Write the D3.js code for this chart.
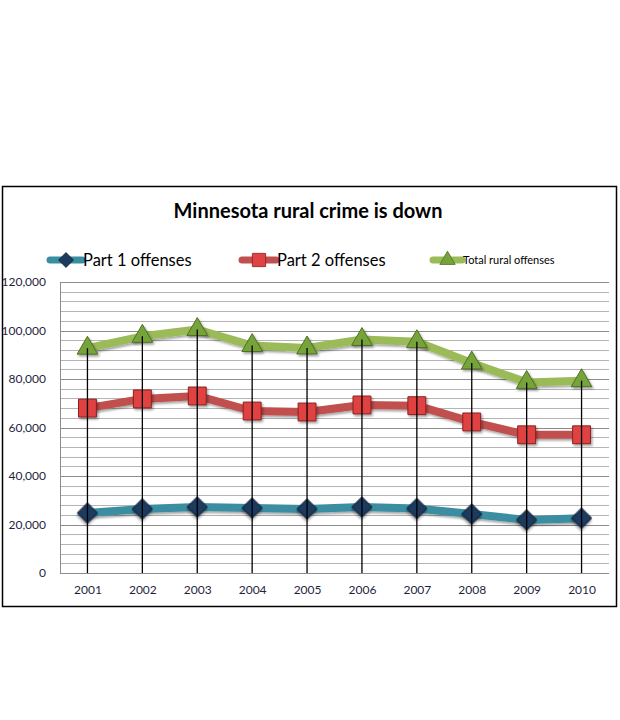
<!DOCTYPE html>
<html>
<head>
<meta charset="utf-8">
<script src="https://cdn.jsdelivr.net/npm/d3@7"></script>
<style>
  body { margin: 0; background: #fff; }
  svg { display: block; }
</style>
</head>
<body>
<svg id="chart" width="620" height="720"></svg>
<script>
// chart values
const years = ["2001", "2002", "2003", "2004", "2005", "2006", "2007", "2008", "2009", "2010"];
const part1 = [24700, 26400, 27200, 26800, 26400, 27200, 26600, 24300, 21900, 22600];
const part2 = [68000, 71800, 73000, 66800, 66400, 69300, 69000, 62300, 57000, 57000];
const total = [92700, 97600, 100400, 93800, 92800, 96300, 95400, 86600, 78600, 79300];
const yTicks = [0, 20000, 40000, 60000, 80000, 100000, 120000];
const seriesNames = ["Part 1 offenses", "Part 2 offenses", "Total rural offenses"];

const svg = d3.select("#chart");
const font = "Lato, 'Open Sans', sans-serif";

// frame
svg.append("rect")
  .attr("x", 2.5).attr("y", 186.5).attr("width", 614).attr("height", 420)
  .attr("fill", "#fff").attr("stroke", "#000").attr("stroke-width", 1.5);

const defs = svg.append("defs");
const shadow = defs.append("filter").attr("id", "shadow")
  .attr("x", "-50%").attr("y", "-50%").attr("width", "200%").attr("height", "200%");
shadow.append("feDropShadow").attr("dx", 1.5).attr("dy", 2).attr("stdDeviation", 1.2)
  .attr("flood-color", "#000").attr("flood-opacity", 0.35);

const plotL = 60, plotR = 609, plotT = 282, plotB = 573;

const x = d3.scalePoint().domain(years).range([plotL, plotR]).padding(0.5);
const y = d3.scaleLinear().domain([0, 120000]).range([plotB, plotT]);

// gridlines every 4,000
svg.append("g").selectAll("line")
  .data(d3.range(4000, 120001, 4000))
  .enter().append("line")
    .attr("x1", plotL).attr("x2", plotR)
    .attr("y1", d => Math.round(y(d)) + 0.5).attr("y2", d => Math.round(y(d)) + 0.5)
    .attr("stroke", d => d % 20000 === 0 ? "#8c8c8c" : "#b4b4b4")
    .attr("stroke-width", 1);

// axis lines
svg.append("line").attr("x1", plotL + 0.5).attr("x2", plotL + 0.5).attr("y1", plotT).attr("y2", plotB)
  .attr("stroke", "#8c8c8c");
svg.append("line").attr("x1", plotL).attr("x2", plotR).attr("y1", plotB + 0.5).attr("y2", plotB + 0.5)
  .attr("stroke", "#8c8c8c");

// y labels
const yAxis = d3.axisLeft(y).tickValues(yTicks).tickSize(0).tickPadding(14)
  .tickFormat(d3.format(","));
svg.append("g").attr("transform", `translate(${plotL},0)`).call(yAxis)
  .call(g => g.select(".domain").remove())
  .call(g => g.selectAll("text").attr("font-family", font).attr("font-size", 12).attr("fill", "#1f1f3f"));

// x labels
const xAxis = d3.axisBottom(x).tickSize(0).tickPadding(12);
svg.append("g").attr("transform", `translate(0,${plotB})`).call(xAxis)
  .call(g => g.select(".domain").remove())
  .call(g => g.selectAll("text").attr("font-family", font).attr("font-size", 12).attr("fill", "#1f1f3f"));

// diamonds are squares turned 45 degrees
const series = [
  { name: seriesNames[0], values: part1, line: "#3a8ea2", fill: "#1d3b5e", stroke: "#0f2238", symbol: d3.symbolSquare, size: 200, rot: 45 },
  { name: seriesNames[1], values: part2, line: "#c0504d", fill: "#e04343", stroke: "#8a2020", symbol: d3.symbolSquare, size: 320, rot: 0 },
  { name: seriesNames[2], values: total, line: "#9bbb59", fill: "#77a33a", stroke: "#4f6f25", symbol: d3.symbolTriangle, size: 185, rot: 0 }
];

const line = d3.line().x(d => x(d.year)).y(d => y(d.value));

series.forEach(s => {
  const pts = years.map((yr, i) => ({ year: yr, value: s.values[i] }));
  svg.append("path")
    .datum(pts)
    .attr("d", line)
    .attr("fill", "none")
    .attr("stroke", s.line)
    .attr("stroke-width", 8)
    .attr("stroke-linejoin", "round")
    .attr("filter", "url(#shadow)");
});

// markers
series.forEach(s => {
  const sym = d3.symbol().type(s.symbol).size(s.size);
  svg.append("g").selectAll("path")
    .data(years.map((yr, i) => ({ year: yr, value: s.values[i] })))
    .enter().append("path")
      .attr("d", sym)
      .attr("transform", d => `translate(${x(d.year)},${y(d.value)}) rotate(${s.rot})`)
      .attr("fill", s.fill)
      .attr("stroke", s.stroke)
      .attr("stroke-width", 1)
      .attr("filter", "url(#shadow)");
});

// drop lines from the highest point down to the axis, drawn over the series
svg.append("g").selectAll("line")
  .data(years)
  .enter().append("line")
    .attr("x1", d => x(d)).attr("x2", d => x(d))
    .attr("y1", (d, i) => y(total[i])).attr("y2", plotB)
    .attr("stroke", "#000").attr("stroke-width", 1.3);

// title
svg.append("text")
  .attr("x", 308).attr("y", 218)
  .attr("text-anchor", "middle")
  .attr("font-family", font).attr("font-weight", "bold").attr("font-size", 20)
  .attr("fill", "#000")
  .text("Minnesota rural crime is down");

// legend
const legendItems = [
  { s: series[0], x0: 50, x1: 82, tx: 83, fs: 16.5 },
  { s: series[1], x0: 242, x1: 276, tx: 277, fs: 16.5 },
  { s: series[2], x0: 433, x1: 462, tx: 463, fs: 11 }
];
const legend = svg.append("g");
legendItems.forEach(it => {
  const ly = 260;
  legend.append("line")
    .attr("x1", it.x0).attr("x2", it.x1).attr("y1", ly).attr("y2", ly)
    .attr("stroke", it.s.line).attr("stroke-width", 7).attr("stroke-linecap", "round");
  legend.append("path")
    .attr("d", d3.symbol().type(it.s.symbol).size(it.s.size * 0.55)())
    .attr("transform", `translate(${(it.x0 + it.x1) / 2},${ly}) rotate(${it.s.rot})`)
    .attr("fill", it.s.fill).attr("stroke", it.s.stroke).attr("stroke-width", 0.8);
  legend.append("text")
    .attr("x", it.tx).attr("y", ly).attr("dy", "0.35em")
    .attr("font-family", font).attr("font-size", it.fs).attr("fill", "#000")
    .text(it.s.name);
});
</script>
</body>
</html>
